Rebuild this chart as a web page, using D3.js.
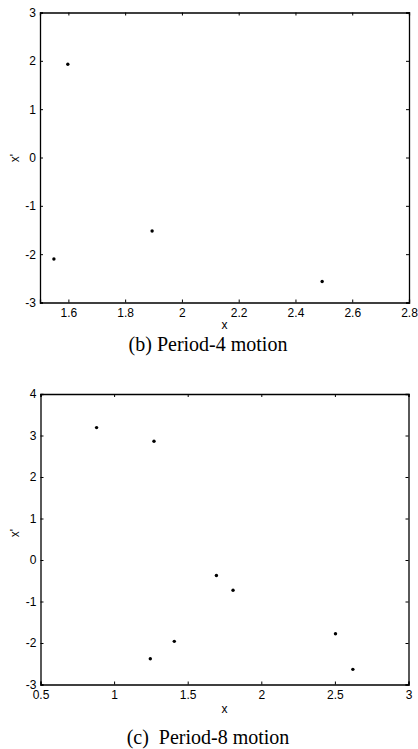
<!DOCTYPE html>
<html>
<head>
<meta charset="utf-8">
<script src="https://d3js.org/d3.v7.min.js"></script>
<style>
  body { margin: 0; background: #fff; }
  svg { display: block; }
  .tick text { font-family: "Liberation Sans", Arial, sans-serif; font-size: 12px; fill: #000; }
</style>
</head>
<body>
<div id="chart"></div>
<script>
// period-4 panel
const p4X = [1.598, 1.549, 1.895, 2.494];
const p4Y = [1.93, -2.10, -1.52, -2.565];
const p4XTicks = [1.6, 1.8, 2, 2.2, 2.4, 2.6, 2.8];
const p4YTicks = [-3, -2, -1, 0, 1, 2, 3];

// period-8 panel
const p8X = [0.881, 1.271, 1.695, 1.808, 1.246, 1.409, 2.504, 2.622];
const p8Y = [3.19, 2.863, -0.375, -0.728, -2.378, -1.96, -1.777, -2.635];
const p8XTicks = [0.5, 1, 1.5, 2, 2.5, 3];
const p8YTicks = [-3, -2, -1, 0, 1, 2, 3, 4];

const width = 418, height = 749;

const svg = d3.select("#chart").append("svg")
    .attr("width", width)
    .attr("height", height);

function drawPanel(cfg) {
    let x = d3.scaleLinear().domain(cfg.xDomain).range([cfg.left, cfg.right]);
    let y = d3.scaleLinear().domain(cfg.yDomain).range([cfg.bottom, cfg.top]);
    let g = svg.append("g");

    // plain hyphen minus, like the original
    let fmt = d => String(d);

    let bottomAxis = g.append("g")
        .attr("transform", "translate(0," + cfg.bottom + ")")
        .call(d3.axisBottom(x).tickValues(cfg.xTicks).tickSize(-3).tickPadding(6).tickFormat(fmt));
    let topAxis = g.append("g")
        .attr("transform", "translate(0," + cfg.top + ")")
        .call(d3.axisTop(x).tickValues(cfg.xTicks).tickSize(-3).tickFormat(""));
    let leftAxis = g.append("g")
        .attr("transform", "translate(" + cfg.left + ",0)")
        .call(d3.axisLeft(y).tickValues(cfg.yTicks).tickSize(-3).tickPadding(4).tickFormat(fmt));
    let rightAxis = g.append("g")
        .attr("transform", "translate(" + cfg.right + ",0)")
        .call(d3.axisRight(y).tickValues(cfg.yTicks).tickSize(-3).tickFormat(""));

    [bottomAxis, topAxis, leftAxis, rightAxis].forEach(a => {
        a.select(".domain").attr("stroke", "#000").attr("stroke-width", 1.3);
        a.selectAll(".tick line").attr("stroke", "#000");
    });
    bottomAxis.selectAll(".tick text").attr("dy", "0.71em");

    g.selectAll("circle.pt")
        .data(cfg.xs.map((d, i) => ({x: d, y: cfg.ys[i]})))
        .enter()
        .append("circle")
        .attr("class", "pt")
        .attr("cx", d => x(d.x))
        .attr("cy", d => y(d.y))
        .attr("r", 1.7)
        .attr("fill", "#000");

    let label_style = "font-family: 'Liberation Sans', Arial, sans-serif; font-size: 12px;";
    g.append("text")
        .attr("style", label_style)
        .attr("text-anchor", "middle")
        .attr("x", (cfg.left + cfg.right) / 2)
        .attr("y", cfg.xLabelY)
        .text("x");

    g.append("text")
        .attr("style", label_style)
        .attr("text-anchor", "middle")
        .attr("transform", "translate(19," + cfg.yLabelY + ") rotate(-90)")
        .text("x'");

    g.append("text")
        .attr("style", "font-family: 'Liberation Serif', 'Times New Roman', serif; font-size: 20px;")
        .attr("text-anchor", "middle")
        .attr("x", 208)
        .attr("y", cfg.captionY)
        .style("white-space", "pre")
        .text(cfg.caption);
}

drawPanel({
    xDomain: [1.5, 2.8], yDomain: [-3, 3],
    left: 40, right: 409, top: 12.5, bottom: 302.5,
    xTicks: p4XTicks, yTicks: p4YTicks,
    xs: p4X, ys: p4Y,
    xLabelY: 329, yLabelY: 158, captionY: 351,
    caption: "(b) Period-4 motion"
});

drawPanel({
    xDomain: [0.5, 3], yDomain: [-3, 4],
    left: 40.5, right: 408.5, top: 394, bottom: 684.5,
    xTicks: p8XTicks, yTicks: p8YTicks,
    xs: p8X, ys: p8Y,
    xLabelY: 713, yLabelY: 533, captionY: 744,
    caption: "(c)  Period-8 motion"
});
</script>
</body>
</html>
